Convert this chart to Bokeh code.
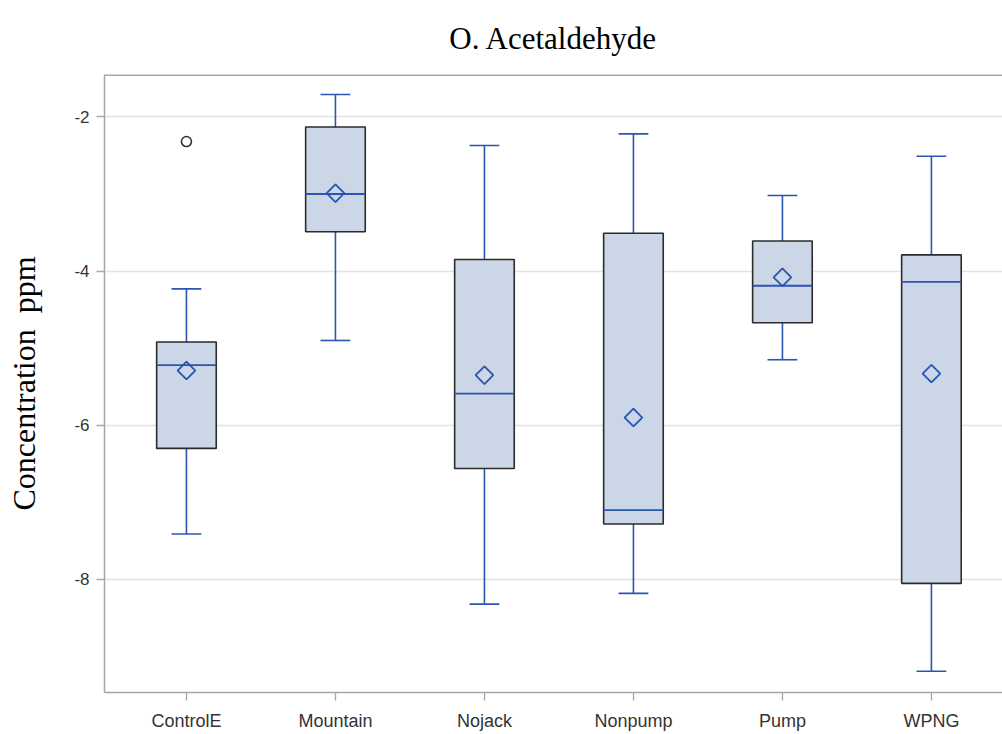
import math
from bokeh.plotting import figure
from bokeh.models import Range1d, FixedTicker, ColumnDataSource, Span
from bokeh.embed import file_html
from bokeh.resources import INLINE

# Acetaldehyde concentration (ppm) box summaries per site
groups = ["ControlE", "Mountain", "Nojack", "Nonpump", "Pump", "WPNG"]
whisker_low = [-7.41, -4.90, -8.32, -8.18, -5.15, -9.19]
q1 = [-6.30, -3.49, -6.56, -7.28, -4.67, -8.05]
median = [-5.22, -3.00, -5.59, -7.10, -4.19, -4.14]
q3 = [-4.92, -2.13, -3.85, -3.51, -3.61, -3.79]
whisker_high = [-4.23, -1.71, -2.37, -2.22, -3.02, -2.51]
mean = [-5.29, -2.99, -5.35, -5.90, -4.08, -5.33]
outlier_group = ["ControlE"]
outlier_value = [-2.32]
y_ticks = [-8, -6, -4, -2]

BOX_W = 0.4
CAP_W = 0.2
LINE_BLUE = "#2B55B0"
BOX_FILL = "#CBD6E6"
BOX_EDGE = "#2B2B2B"
AXIS_GREY = "#A3A7AD"
X_LEFT, X_RIGHT = -0.55, 5.477
Y_BOTTOM, Y_TOP = -9.466, -1.45

xs = list(range(len(groups)))
src = ColumnDataSource(dict(
    x=xs,
    lo=whisker_low, q1=q1, med=median, q3=q3, hi=whisker_high, mean=mean,
    x0=[x - BOX_W / 2 for x in xs], x1=[x + BOX_W / 2 for x in xs],
    c0=[x - CAP_W / 2 for x in xs], c1=[x + CAP_W / 2 for x in xs],
))
out_src = ColumnDataSource(dict(
    x=[groups.index(g) for g in outlier_group], y=outlier_value,
))

p = figure(
    width=1002, height=734,
    x_range=Range1d(X_LEFT, X_RIGHT), y_range=Range1d(Y_BOTTOM, Y_TOP),
    output_backend="svg", toolbar_location=None,
    min_border_left=104, min_border_right=0, min_border_top=74, min_border_bottom=42,
    background_fill_color="white", border_fill_color="white",
)
p.outline_line_color = None

# title
p.title.text = "O. Acetaldehyde"
p.title.align = "center"
p.title.vertical_align = "top"
p.title.offset = 5
p.title.text_font = "Liberation Serif"
p.title.text_font_size = "31px"
p.title.text_font_style = "normal"
p.title.text_color = "black"
p.title.standoff = 34

# whiskers and caps
p.segment(x0="x", y0="q3", x1="x", y1="hi", source=src, line_color=LINE_BLUE, line_width=1.6)
p.segment(x0="x", y0="lo", x1="x", y1="q1", source=src, line_color=LINE_BLUE, line_width=1.6)
p.segment(x0="c0", y0="hi", x1="c1", y1="hi", source=src, line_color=LINE_BLUE, line_width=1.6)
p.segment(x0="c0", y0="lo", x1="c1", y1="lo", source=src, line_color=LINE_BLUE, line_width=1.6)

# boxes
p.vbar(x="x", width=BOX_W, top="q3", bottom="q1", source=src,
       fill_color=BOX_FILL, line_color=BOX_EDGE, line_width=1.6)
# medians
p.segment(x0="x0", y0="med", x1="x1", y1="med", source=src, line_color=LINE_BLUE, line_width=1.8)
# means
p.scatter(x="x", y="mean", source=src, marker="square", angle=math.pi / 4, size=12.5,
          fill_color=None, line_color=LINE_BLUE, line_width=1.8)
# outliers
p.scatter(x="x", y="y", source=out_src, marker="circle", size=10,
          fill_color="white", line_color="#333333", line_width=1.6)

# axes
p.xgrid.grid_line_color = None
p.ygrid.grid_line_color = "#E3E3E3"
p.ygrid.grid_line_width = 1.3
p.yaxis.ticker = FixedTicker(ticks=y_ticks)
p.yaxis.major_label_overrides = {t: str(t) for t in y_ticks}
p.xaxis.ticker = FixedTicker(ticks=xs)
p.xaxis.major_label_overrides = {i: g for i, g in enumerate(groups)}

for ax in (p.xaxis[0], p.yaxis[0]):
    ax.axis_line_color = AXIS_GREY
    ax.axis_line_width = 1.5
    ax.major_tick_line_color = AXIS_GREY
    ax.major_tick_line_width = 1.3
    ax.major_tick_out = 8
    ax.major_tick_in = 0
    ax.minor_tick_line_color = None
    ax.major_label_text_font = "Liberation Sans"
    ax.major_label_text_font_size = "17px"
    ax.major_label_text_color = "#333333"

p.xaxis.major_label_standoff = 10
p.xaxis.major_label_text_font_size = "18px"
p.yaxis.major_label_standoff = 7

p.yaxis.axis_label = "Concentration\u00a0 ppm"
p.yaxis.axis_label_text_font = "Liberation Serif"
p.yaxis.axis_label_text_font_size = "32px"
p.yaxis.axis_label_text_font_style = "normal"
p.yaxis.axis_label_text_color = "black"
p.yaxis.axis_label_standoff = 29

# top border of the plot frame
p.add_layout(Span(location=Y_TOP, dimension="width", line_color=AXIS_GREY, line_width=3))

open("out.html", "w").write(file_html(p, INLINE))
